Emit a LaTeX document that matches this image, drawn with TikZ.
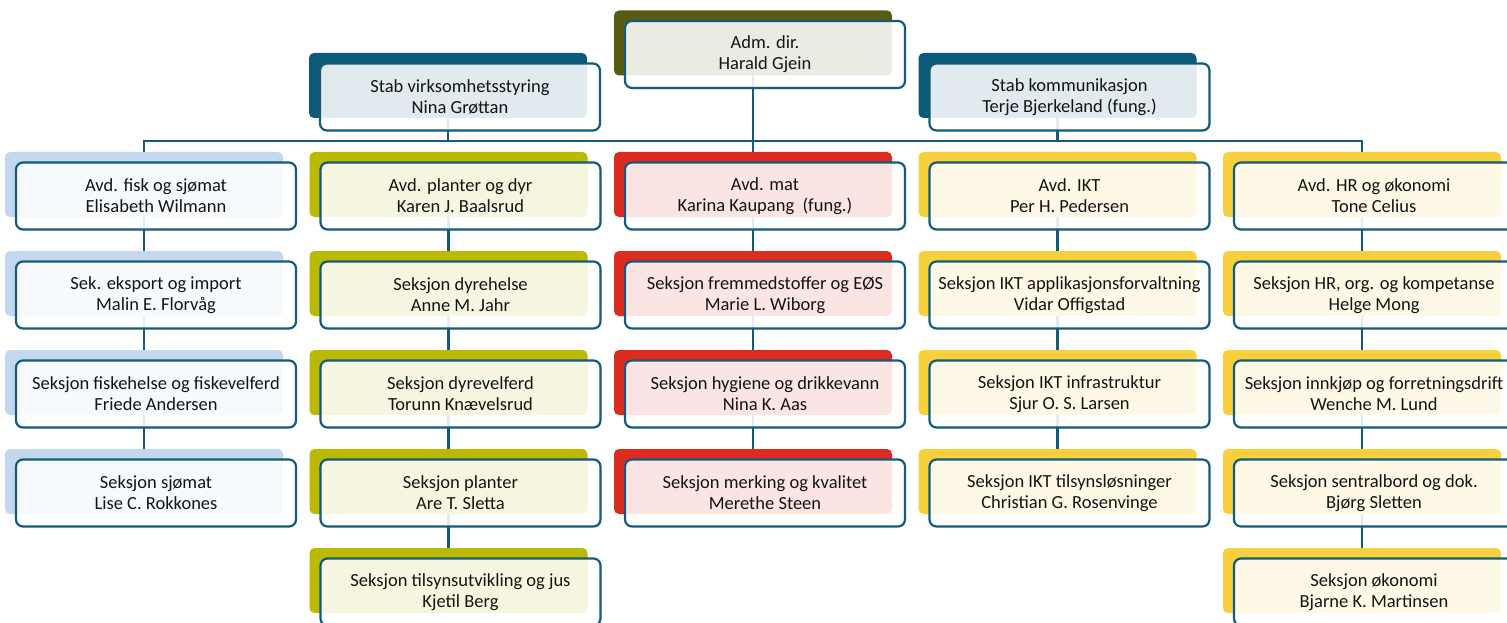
\documentclass[tikz,border=0pt]{standalone}
\usepackage{fontspec}
\setmainfont{Carlito}
\usetikzlibrary{backgrounds}

\definecolor{linecol}{HTML}{135B79}
\definecolor{stabcol}{HTML}{0D5A78}
\definecolor{admcol}{HTML}{585C12}
\definecolor{fiskcol}{HTML}{C3D8EE}
\definecolor{plantcol}{HTML}{BCBA00}
\definecolor{matcol}{HTML}{DC2B1F}
\definecolor{iktcol}{HTML}{F8CF3D}
\definecolor{textcol}{HTML}{141414}

% back box + front box, the front one named #1
\newcommand{\orgbox}[5]{%
  \node[backbox, fill=#4] (#1b) at (#2,#3) {};
  \node[frontbox] (#1) at ([xshift=12pt,yshift=-11.5pt]#1b) {#5};
}

\begin{document}
\begin{tikzpicture}[x=1pt, y=-1pt,
    backbox/.style={rounded corners=5pt, minimum width=278pt, minimum height=65pt, inner sep=0pt, outer sep=0pt},
    frontbox/.style={draw=linecol, line width=2.2pt, rounded corners=7pt, fill=white, fill opacity=0.88,
      text opacity=1, text=textcol, minimum width=280pt, minimum height=67pt, inner sep=0pt,
      align=center, font=\fontsize{18.5}{21}\selectfont},
    link/.style={draw=linecol, line width=2.4pt}]
  \useasboundingbox (0,0) rectangle (1507,623);

  % top
  \orgbox{adm}{753}{43}{admcol}{Adm. dir.\\Harald Gjein}
  \orgbox{virk}{448}{85.5}{stabcol}{Stab virksomhetsstyring\\Nina Grøttan}
  \orgbox{komm}{1057.5}{85.5}{stabcol}{Stab kommunikasjon\\Terje Bjerkeland (fung.)}

  % Avd. fisk og sjømat
  \orgbox{fisk1}{144}{184.5}{fiskcol}{Avd. fisk og sjømat\\Elisabeth Wilmann}
  \orgbox{fisk2}{144}{283.5}{fiskcol}{Sek. eksport og import\\Malin E. Florvåg}
  \orgbox{fisk3}{144}{382.5}{fiskcol}{Seksjon fiskehelse og fiskevelferd\\Friede Andersen}
  \orgbox{fisk4}{144}{481.5}{fiskcol}{Seksjon sjømat\\Lise C. Rokkones}

  % Avd. planter og dyr
  \orgbox{plant1}{448.5}{184.5}{plantcol}{Avd. planter og dyr\\Karen J. Baalsrud}
  \orgbox{plant2}{448.5}{283.5}{plantcol}{Seksjon dyrehelse\\Anne M. Jahr}
  \orgbox{plant3}{448.5}{382.5}{plantcol}{Seksjon dyrevelferd\\Torunn Knævelsrud}
  \orgbox{plant4}{448.5}{481.5}{plantcol}{Seksjon planter\\Are T. Sletta}
  \orgbox{plant5}{448.5}{580.5}{plantcol}{Seksjon tilsynsutvikling og jus\\Kjetil Berg}

  % Avd. mat
  \orgbox{mat1}{753}{184.5}{matcol}{Avd. mat\\Karina Kaupang~~(fung.)}
  \orgbox{mat2}{753}{283.5}{matcol}{Seksjon fremmedstoffer og EØS\\Marie L. Wiborg}
  \orgbox{mat3}{753}{382.5}{matcol}{Seksjon hygiene og drikkevann\\Nina K. Aas}
  \orgbox{mat4}{753}{481.5}{matcol}{Seksjon merking og kvalitet\\Merethe Steen}

  % Avd. IKT
  \orgbox{ikt1}{1057.5}{184.5}{iktcol}{Avd. IKT\\Per H. Pedersen}
  \orgbox{ikt2}{1057.5}{283.5}{iktcol}{Seksjon IKT applikasjonsforvaltning\\Vidar Offigstad}
  \orgbox{ikt3}{1057.5}{382.5}{iktcol}{Seksjon IKT infrastruktur\\Sjur O. S. Larsen}
  \orgbox{ikt4}{1057.5}{481.5}{iktcol}{Seksjon IKT tilsynsløsninger\\Christian G. Rosenvinge}

  % Avd. HR og økonomi
  \orgbox{hr1}{1362}{184.5}{iktcol}{Avd. HR og økonomi\\Tone Celius}
  \orgbox{hr2}{1362}{283.5}{iktcol}{Seksjon HR, org. og kompetanse\\Helge Mong}
  \orgbox{hr3}{1362}{382.5}{iktcol}{Seksjon innkjøp og forretningsdrift\\Wenche M. Lund}
  \orgbox{hr4}{1362}{481.5}{iktcol}{Seksjon sentralbord og dok.\\Bjørg Sletten}
  \orgbox{hr5}{1362}{580.5}{iktcol}{Seksjon økonomi\\Bjarne K. Martinsen}

  \coordinate (bus) at (753,141);

  \begin{scope}[on background layer]
    \draw[link] (fisk1b) |- (bus) -| (hr1b);
    \draw[link] (admb) -- (mat1b);
    \draw[link] (virkb) -- (virkb |- bus);
    \draw[link] (kommb) -- (kommb |- bus);
    \draw[link] (fisk1b) -- (fisk2b);
    \draw[link] (fisk2b) -- (fisk3b);
    \draw[link] (fisk3b) -- (fisk4b);
    \draw[link] (plant1b) -- (plant2b);
    \draw[link] (plant2b) -- (plant3b);
    \draw[link] (plant3b) -- (plant4b);
    \draw[link] (plant4b) -- (plant5b);
    \draw[link] (mat1b) -- (mat2b);
    \draw[link] (mat2b) -- (mat3b);
    \draw[link] (mat3b) -- (mat4b);
    \draw[link] (ikt1b) -- (ikt2b);
    \draw[link] (ikt2b) -- (ikt3b);
    \draw[link] (ikt3b) -- (ikt4b);
    \draw[link] (hr1b) -- (hr2b);
    \draw[link] (hr2b) -- (hr3b);
    \draw[link] (hr3b) -- (hr4b);
    \draw[link] (hr4b) -- (hr5b);
  \end{scope}
\end{tikzpicture}
\end{document}
